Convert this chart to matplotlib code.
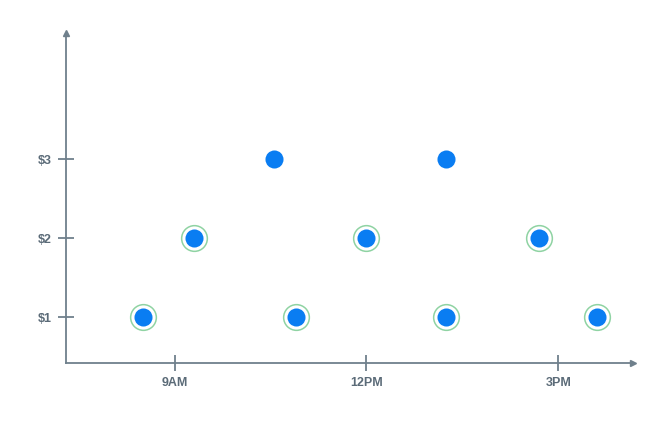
import matplotlib
matplotlib.use("Agg")
from matplotlib import pyplot as plt

# hours of day (decimal) and price in dollars
hours = [8.5, 9.3, 10.55, 10.9, 12.0, 13.25, 13.25, 14.7, 15.6]
prices = [1, 2, 3, 1, 2, 3, 1, 2, 1]
ringed = [True, True, False, True, True, False, True, True, True]

xticks = [9, 12, 15]
xtick_labels = ["9AM", "12PM", "3PM"]
yticks = [1, 2, 3]
ytick_labels = ["$1", "$2", "$3"]

axis_color = "#6f808c"
label_color = "#5b6b78"
dot_color = "#0a7df2"
ring_color = "#8fd3a3"

fig = plt.figure(figsize=(6.66, 4.21), dpi=100)
ax = fig.add_axes([66 / 666, 58 / 421, 567 / 666, 330 / 421])

rx = [h for h, r in zip(hours, ringed) if r]
ry = [p for p, r in zip(prices, ringed) if r]
ax.plot(rx, ry, "o", ms=18.5, mfc="white", mec=ring_color, mew=1.1,
        linestyle="", clip_on=False, zorder=3)
ax.plot(hours, prices, "o", ms=13, mfc=dot_color, mec=dot_color, mew=0,
        linestyle="", clip_on=False, zorder=4)

ax.set_xlim(7.3, 16.17)
ax.set_ylim(0.418, 4.595)

for s in ["top", "right"]:
    ax.spines[s].set_visible(False)
for s in ["left", "bottom"]:
    ax.spines[s].set_color(axis_color)
    ax.spines[s].set_linewidth(1.3)

# arrow heads
ax.plot(1, 0, ">", color=axis_color, ms=5, transform=ax.transAxes, clip_on=False)
ax.plot(0, 1, "^", color=axis_color, ms=5, transform=ax.transAxes, clip_on=False)

ax.set_xticks(xticks)
ax.set_xticklabels(xtick_labels)
ax.set_yticks(yticks)
ax.set_yticklabels(ytick_labels)
ax.tick_params(axis="both", direction="inout", length=12, width=1.3,
               color=axis_color, labelcolor=label_color, labelsize=9)
ax.tick_params(axis="x", pad=4)
ax.tick_params(axis="y", pad=4)
for lab in ax.get_xticklabels() + ax.get_yticklabels():
    lab.set_fontweight("bold")
    lab.set_family("Liberation Sans")

plt.savefig("out.png", dpi=100)
